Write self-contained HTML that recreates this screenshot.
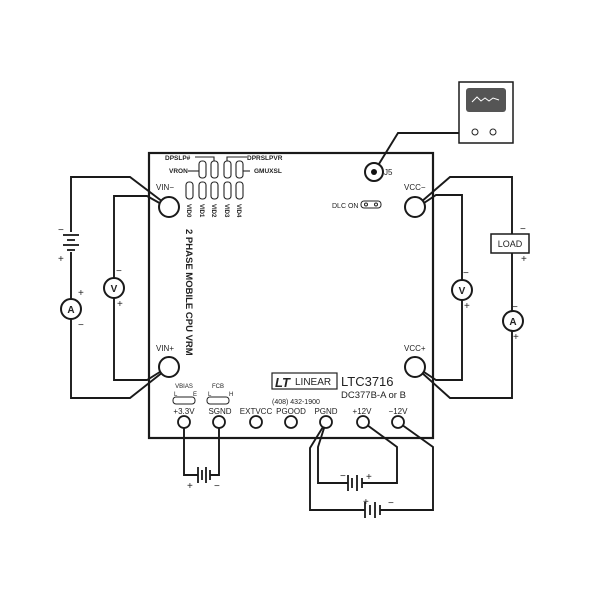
<!DOCTYPE html>
<html><head><style>body{margin:0;background:#fff}svg{display:block}text{font-family:"Liberation Sans",sans-serif;fill:#222}</style></head>
<body>
<svg width="600" height="600" viewBox="0 0 600 600" xmlns="http://www.w3.org/2000/svg">
<g fill="none" stroke="#1a1a1a" stroke-width="1.9">
<rect x="149" y="153" width="284" height="285" stroke-width="2.2"/>
<polyline points="163,202 130,177 71,177 71,398 130,398 163,372"/>
<polyline points="163,205 147,196 114,196 114,380 147,380 163,370"/>
<polyline points="421,202 450,177 512,177 512,398 450,398 421,372"/>
<polyline points="421,205 436,195 462,195 462,380 436,380 421,370"/>
<polyline points="460,133 398,133 374,172"/>
<polyline points="184,422 184,475 198,475"/>
<polyline points="219,422 219,475 210,475"/>
<polyline points="326,422 310,448 310,510 365,510"/>
<polyline points="326,422 318,447 318,483 348,483"/>
<polyline points="363,422 397,447 397,483 362,483"/>
<polyline points="398,422 433,447 433,510 380,510"/>
</g>
<g stroke="#1a1a1a" stroke-width="1.8" fill="none">
<line x1="71" y1="232" x2="71" y2="252" stroke="#fff" stroke-width="4"/>
<line x1="63" y1="235" x2="79" y2="235"/><line x1="67" y1="240" x2="75" y2="240"/>
<line x1="63" y1="245" x2="79" y2="245"/><line x1="67" y1="250" x2="75" y2="250"/>
<line x1="198" y1="467" x2="198" y2="483"/><line x1="202" y1="470" x2="202" y2="480"/>
<line x1="206" y1="467" x2="206" y2="483"/><line x1="210" y1="470" x2="210" y2="480"/>
<line x1="348" y1="475" x2="348" y2="491"/><line x1="352" y1="478" x2="352" y2="488"/>
<line x1="357" y1="475" x2="357" y2="491"/><line x1="362" y1="478" x2="362" y2="488"/>
<line x1="365" y1="502" x2="365" y2="518"/><line x1="370" y1="505" x2="370" y2="515"/>
<line x1="375" y1="502" x2="375" y2="518"/><line x1="380" y1="505" x2="380" y2="515"/>
</g>
<g fill="#fff" stroke="#1a1a1a" stroke-width="2">
<circle cx="71" cy="309" r="10"/><circle cx="114" cy="288" r="10"/>
<circle cx="462" cy="290" r="10"/><circle cx="513" cy="321" r="10"/>
<rect x="491" y="234" width="38" height="19" stroke-width="1.5"/>
<circle cx="169" cy="207" r="10"/><circle cx="169" cy="367" r="10"/>
<circle cx="415" cy="207" r="10"/><circle cx="415" cy="367" r="10"/>
<circle cx="374" cy="172" r="9"/>
<rect x="459" y="82" width="54" height="61" stroke-width="1.5"/>
</g>
<circle cx="374" cy="172" r="3" fill="#111"/>
<rect x="466" y="88" width="40" height="24" rx="3" fill="#555"/>
<polyline points="472,102 477,97 481,101 485,98 489,101 493,98 499,100" fill="none" stroke="#fff" stroke-width="1"/>
<circle cx="475" cy="132" r="3" fill="none" stroke="#222"/><circle cx="493" cy="132" r="3" fill="none" stroke="#222"/>
<g font-weight="bold" text-anchor="middle" font-size="10">
<text x="71" y="313">A</text><text x="114" y="292">V</text><text x="462" y="294">V</text><text x="513" y="325">A</text>
</g>
<text x="510" y="247" font-size="9" text-anchor="middle">LOAD</text>
<g font-size="10">
<text x="58" y="233">−</text><text x="58" y="262">+</text>
<text x="78" y="296">+</text><text x="78" y="328">−</text>
<text x="116" y="274">−</text><text x="117" y="307">+</text>
<text x="463" y="276">−</text><text x="464" y="309">+</text>
<text x="520" y="232">−</text><text x="521" y="262">+</text>
<text x="512" y="310">−</text><text x="513" y="340">+</text>
<text x="187" y="489">+</text><text x="214" y="489">−</text>
<text x="340" y="479">−</text><text x="366" y="480">+</text>
<text x="363" y="505">+</text><text x="388" y="506">−</text>
</g>
<g font-size="8">
<text x="156" y="190">VIN−</text><text x="156" y="351">VIN+</text>
<text x="404" y="190">VCC−</text><text x="404" y="351">VCC+</text>
<text x="384" y="175">J5</text>
<text x="332" y="208" font-size="7">DLC ON</text>
</g>
<rect x="361" y="201" width="20" height="7" rx="3" fill="none" stroke="#222"/>
<circle cx="366" cy="204.5" r="1.5" fill="none" stroke="#222"/><circle cx="376" cy="204.5" r="1.5" fill="none" stroke="#222"/>
<g fill="none" stroke="#222" stroke-width="1.1">
<rect x="199" y="161" width="7" height="17" rx="3"/><rect x="211" y="161" width="7" height="17" rx="3"/>
<rect x="224" y="161" width="7" height="17" rx="3"/><rect x="236" y="161" width="7" height="17" rx="3"/>
<rect x="186" y="182" width="7" height="17" rx="3"/><rect x="199" y="182" width="7" height="17" rx="3"/>
<rect x="211" y="182" width="7" height="17" rx="3"/><rect x="224" y="182" width="7" height="17" rx="3"/>
<rect x="236" y="182" width="7" height="17" rx="3"/>
<polyline points="195,157 214,157 214,161"/><polyline points="227,161 227,157 247,157"/>
<line x1="188" y1="171" x2="199" y2="171"/><line x1="243" y1="171" x2="250" y2="171"/>
</g>
<g font-size="6.5" font-weight="bold">
<text x="165" y="160">DPSLP#</text><text x="169" y="173">VRON</text>
<text x="247" y="160">DPRSLPVR</text><text x="254" y="173">GMUXSL</text>
</g>
<g font-size="6" font-weight="bold">
<text transform="translate(187,204) rotate(90)">VID0</text>
<text transform="translate(200,204) rotate(90)">VID1</text>
<text transform="translate(212,204) rotate(90)">VID2</text>
<text transform="translate(225,204) rotate(90)">VID3</text>
<text transform="translate(237,204) rotate(90)">VID4</text>
</g>
<text transform="translate(186,229) rotate(90)" font-size="9.5" font-weight="bold">2 PHASE MOBILE CPU VRM</text>
<g fill="#fff" stroke="#1a1a1a" stroke-width="1.8">
<circle cx="184" cy="422" r="6"/><circle cx="219" cy="422" r="6"/><circle cx="256" cy="422" r="6"/>
<circle cx="291" cy="422" r="6"/><circle cx="326" cy="422" r="6"/><circle cx="363" cy="422" r="6"/><circle cx="398" cy="422" r="6"/>
</g>
<g font-size="8" text-anchor="middle">
<text x="184" y="414">+3.3V</text><text x="220" y="414">SGND</text><text x="256" y="414">EXTVCC</text>
<text x="291" y="414">PGOOD</text><text x="326" y="414">PGND</text><text x="362" y="414">+12V</text><text x="398" y="414">−12V</text>
</g>
<g font-size="6" text-anchor="middle"><text x="184" y="388">VBIAS</text><text x="218" y="388">FCB</text></g>
<g font-size="6"><text x="174" y="396">L</text><text x="193" y="396">E</text><text x="208" y="396">L</text><text x="229" y="396">H</text></g>
<rect x="173" y="397" width="22" height="7" rx="3" fill="none" stroke="#222"/>
<rect x="207" y="397" width="22" height="7" rx="3" fill="none" stroke="#222"/>
<rect x="272" y="373" width="65" height="16" fill="none" stroke="#222" stroke-width="1.2"/>
<text x="275" y="387" font-size="13" font-weight="bold" font-style="italic">LT</text>
<text x="295" y="385" font-size="10">LINEAR</text>
<text x="341" y="386" font-size="13">LTC3716</text>
<text x="341" y="398" font-size="9.5">DC377B-A or B</text>
<text x="272" y="404" font-size="7">(408) 432-1900</text>
</svg>
</body></html>
